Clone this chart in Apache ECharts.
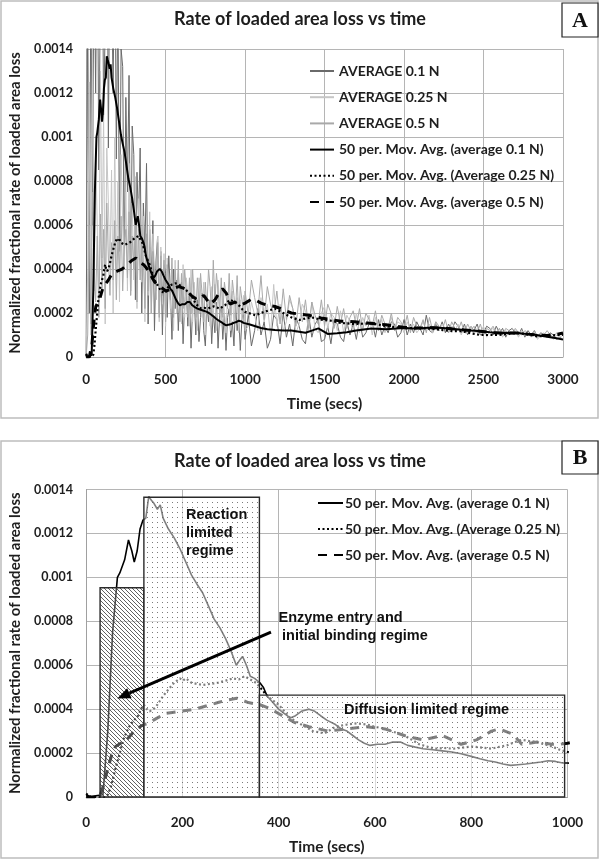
<!DOCTYPE html>
<html><head><meta charset="utf-8">
<script src="https://cdn.jsdelivr.net/npm/echarts@6/dist/echarts.min.js"></script>
<style>html,body{margin:0;padding:0;background:#fff}#c{width:600px;height:860px}</style>
</head><body><div id="c"></div>
<script>
// All rate values below are in units of 1e-5 (e.g. 140 -> 0.0014)
const UNIT = 1e-5;

const rawTime = [
  0,10,20,30,40,50,60,70,80,90,
  100,110,120,130,140,150,160,170,180,190,
  200,210,220,230,240,250,260,270,280,290,
  300,310,320,330,340,350,360,370,380,390,
  400,410,420,430,440,450,460,470,480,490,
  500,510,520,530,540,550,560,570,580,590,
  600,610,620,630,640,650,660,670,680,690,
  700,710,720,730,740,750,760,770,780,790,
  800,810,820,830,840,850,860,870,880,890,
  900,910,920,930,940,950,960,970,980,990,
  1000,
  1020,1040,1060,1080,1100,1120,1140,1160,1180,1200,
  1220,1240,1260,1280,1300,1320,1340,1360,1380,1400,
  1420,1440,1460,1480,1500,1520,1540,1560,1580,1600,
  1620,1640,1660,1680,1700,1720,1740,1760,1780,1800,
  1820,1840,1860,1880,1900,1920,1940,1960,1980,2000,
  2020,2040,2060,2080,2100,2120,2140,2160,2180,2200,
  2220,2240,2260,2280,2300,2320,2340,2360,2380,2400,
  2420,2440,2460,2480,2500,2520,2540,2560,2580,2600,
  2620,2640,2660,2680,2700,2720,2740,2760,2780,2800,
  2820,2840,2860,2880,2900,2920,2940,2960,2980,3000
];

const raw01 = [
  0,160,20,175,60,190,120,205,85,170,
  215,110,150,230,95,200,175,120,210,90,
  165,48,140,132,40,118,75,128,30,105,
  92,26,84,62,95,20,70,48,88,15,
  58,35,62,12,44,55,20,48,10,42,
  38,18,46,30,8,40,22,35,12,30,
  34,6,25,31,14,28,4,22,27,10,
  26,7,18,29,12,5,24,16,26,6,
  21,11,25,4,19,23,8,20,3,18,
  22,9,16,5,24,12,19,3,17,21,
  8,
  19,5,12,22,10,16,4,8,19,17,
  6,20,9,15,5,18,14,8,6,19,
  9,15,17,7,8,14,6,17,15,9,
  7,16,10,15,8,17,9,11,15,16,
  9,17,10,14,11,16,15,9,11,17,
  10,15,11,16,13,10,19,12,11,15,
  12,16,11,15,12,16,14,11,15,10,
  14,12,15,10,11,14,13,10,14,11,
  13,9,12,13,11,10,13,9,12,10,
  12,9,11,10,9,11,10,8,9,8
];

const raw025 = [
  0,40,125,10,145,30,95,60,20,130,
  45,110,15,95,70,40,85,20,100,35,
  80,25,92,60,40,75,30,88,28,70,
  35,82,22,72,50,34,64,16,62,28,
  66,20,56,40,30,55,16,50,24,47,
  14,45,32,22,40,12,44,20,38,27,
  15,42,18,36,28,14,40,16,34,22,
  12,36,30,18,34,10,28,25,14,32,
  18,33,12,35,24,14,30,20,11,29,
  26,12,30,15,22,27,11,26,17,28,
  12,
  14,25,19,12,27,16,24,10,33,14,
  24,12,16,26,22,11,15,24,21,12,
  25,13,11,20,23,13,20,18,12,21,
  11,19,16,12,20,11,18,14,19,10,
  18,12,17,11,14,18,12,16,15,11,
  16,12,15,11,13,16,12,15,11,16,
  12,15,13,11,14,12,15,10,14,11,
  14,10,13,11,14,9,12,13,10,13,
  9,12,10,11,12,9,12,10,11,9,
  11,8,10,11,9,10,8,10,9,10
];

const raw05 = [
  0,10,60,15,75,40,25,55,18,65,
  30,58,22,70,45,28,52,35,62,26,
  55,38,64,30,50,58,36,66,28,55,
  40,60,25,58,35,52,44,22,56,30,
  50,20,48,38,26,52,18,46,28,44,
  16,42,34,26,45,18,40,24,44,16,
  38,22,40,30,18,36,20,40,26,18,
  36,20,38,28,16,34,22,40,32,18,
  44,24,38,30,20,36,18,34,28,22,
  38,19,35,28,20,37,17,32,26,19,
  30,
  19,35,27,20,37,17,32,24,19,30,
  15,31,17,28,22,14,27,16,26,13,
  25,19,15,26,14,24,20,13,23,15,
  22,13,18,21,14,22,12,20,17,14,
  21,12,19,15,13,20,12,18,16,13,
  19,11,18,14,13,17,11,18,12,16,
  14,12,17,11,16,13,12,16,11,15,
  12,14,11,15,10,13,12,14,11,13,
  10,13,12,10,13,11,10,12,11,10,
  12,9,11,10,12,10,9,11,10,11
];

// 50-period moving averages: [time, value]
const ma01 = [[0,1],[10,0],[20,0.5],[35,1],[45,30],[55,75],[65,100],[70,102],[80,108],[88,117],[95,112],[100,107],[106,112],[112,122],[118,126],[124,127],[130,136.7],[136,135],[140,134],[148,131],[154,133],[160,127],[171,122],[183,118],[195,113],[207,107],[219,101],[230,97],[242,93],[254,87],[266,81],[278,77],[290,72],[300,67],[312,60],[318,62],[325,64],[333,60],[341,55],[350,54],[361,52],[368,50],[376,46],[388,43],[400,40],[412,38],[424,36],[435,37],[447,39],[463,40],[475,39],[487,37],[500,35],[518,33],[530,31],[542,30],[554,28],[566,26],[578,24.5],[590,23.5],[605,24],[621,24],[637,25],[653,25],[668,23.5],[684,22.7],[700,22],[720,21.5],[740,21],[760,20.5],[779,19.7],[800,18.5],[818,17.4],[835,16.5],[850,15.9],[866,15],[882,14.4],[897,14.7],[913,15],[929,15.5],[945,15.9],[960,16.5],[975,16.2],[990,15.5],[1000,15.5],[1030,14.8],[1065,14],[1100,13.2],[1140,12.6],[1188,12.3],[1240,12.1],[1291,12],[1340,11.5],[1380,11],[1420,12],[1461,13],[1520,10.5],[1579,10.8],[1640,11.3],[1698,12],[1795,13],[1887,12.6],[1950,12.9],[2006,13.2],[2060,13],[2124,13.2],[2180,13.4],[2243,13.2],[2300,12.8],[2361,12.4],[2420,12],[2479,11.7],[2540,11.2],[2598,10.9],[2660,11],[2716,10.9],[2780,10.4],[2834,10],[2900,9.2],[2960,8.5],[3000,7.9]];

const ma025 = [[0,1.5],[10,0],[20,0],[30,0],[40,0],[45,1],[52,5],[61,13],[70,20],[77,26],[85,30],[92,33],[100,35],[108,37],[114,40],[120,42],[126,40],[132,39],[140,40],[148,42],[160,46],[171,49],[183,52],[195,54],[201,53],[207,54],[219,52],[230,51.5],[242,51],[258,51.5],[274,52],[290,53],[305,54],[317,53.5],[329,55],[341,53.5],[353,52],[365,49],[376,46],[388,44],[400,42],[412,39],[424,36],[435,34.5],[447,33],[459,31.5],[471,30],[483,29.5],[495,29],[507,30.5],[518,32],[530,32.5],[542,33],[562,33.5],[582,33],[600,32],[621,31],[641,29.5],[661,28],[677,26],[692,24],[708,23],[724,22],[744,22.3],[763,22],[783,22.5],[803,23],[822,22.5],[842,22],[858,22.8],[874,23.5],[890,25],[905,26],[921,25.5],[937,25],[952,24],[968,23],[984,21.5],[1000,20.5],[1065,19],[1120,20.5],[1188,22],[1240,20],[1291,18],[1340,16.8],[1380,17.5],[1420,18],[1478,17],[1540,16.5],[1600,15.5],[1690,15],[1795,15.3],[1887,14],[1950,13.5],[2006,13],[2060,13.2],[2124,13],[2180,12.8],[2243,12.2],[2300,11.8],[2361,11.7],[2420,10.8],[2479,10],[2540,10],[2598,10],[2660,10.5],[2716,10.9],[2780,10.2],[2834,9.4],[2900,9.6],[2960,10],[3000,10]];

const ma05 = [[0,0],[20,0],[29,0.5],[37,6],[45,13],[53,19],[61,23],[72,24.5],[84,26],[94,28.5],[104,31],[112,32],[120,33],[130,33.5],[140,35],[152,36.5],[163,38],[179,38.5],[195,39],[211,39.5],[227,40],[242,41],[258,42],[274,43],[290,44],[302,44.5],[313,45],[325,44],[337,43],[349,42.5],[361,42],[373,41],[384,40],[396,38.5],[408,37],[420,35.5],[432,34],[447,33],[463,32],[483,31],[503,30],[522,30.5],[542,31],[562,31.5],[582,32],[602,31.5],[621,31],[641,29.5],[661,28],[680,27],[700,26],[720,27],[740,28],[760,26],[779,24],[795,25],[811,26],[827,28],[842,30],[858,31],[870,30],[882,29],[893,27],[905,24],[921,24.5],[937,25],[952,24.5],[968,24],[984,24],[1000,24.5],[1035,26],[1065,26],[1100,24.5],[1140,23.5],[1188,23],[1240,21.5],[1291,20],[1343,19.5],[1400,19],[1478,17.7],[1540,17],[1603,16.3],[1690,16],[1769,15.5],[1830,15],[1887,14.7],[1950,14],[2006,13.4],[2060,13.2],[2124,13.2],[2180,13.3],[2243,13.2],[2300,12.8],[2361,12.4],[2420,12],[2479,11.7],[2540,11.2],[2598,10.9],[2660,10.9],[2716,10.9],[2780,10.4],[2834,10],[2900,9.8],[2960,10.3],[3000,10.9]];

// Regime boxes in panel B: [start time, end time, top value, pattern kind]
const regimeBoxes = [[29,120,95.3,0],[120,360,136.5,1],[360,994,46.4,1]];
// Arrow in panel B: [from time, from value, to time, to value]
const arrowLine = [[384,75.1,65,44.9]];

const yTickLabels = ['0','0.0002','0.0004','0.0006','0.0008','0.001','0.0012','0.0014'];
const xTickLabelsA = ['0','500','1000','1500','2000','2500','3000'];
const xTickLabelsB = ['0','200','400','600','800','1000'];
const namesRaw = ['AVERAGE 0.1 N','AVERAGE 0.25 N','AVERAGE 0.5 N'];
const namesMA = ['50 per. Mov. Avg. (average 0.1 N)','50 per. Mov. Avg. (Average 0.25 N)','50 per. Mov. Avg. (average 0.5 N)'];

const toPairs = (t, v) => t.map((x, i) => [x, v[i] * UNIT]);
const scalePairs = p => p.map(d => [d[0], d[1] * UNIT]);

function makeDots() {
  const c = document.createElement('canvas'); c.width = 5; c.height = 5;
  const g = c.getContext('2d');
  g.fillStyle = 'rgba(255,255,255,0.5)'; g.fillRect(0,0,5,5);
  g.fillStyle = 'rgba(90,90,90,0.8)'; g.fillRect(2,2,1,1);
  return c;
}
function makeHatch() {
  const c = document.createElement('canvas'); c.width = 4; c.height = 4;
  const g = c.getContext('2d');
  g.fillStyle = 'rgba(255,255,255,0.3)'; g.fillRect(0,0,4,4);
  g.strokeStyle = 'rgba(60,60,60,0.9)'; g.lineWidth = 0.9;
  g.beginPath();
  g.moveTo(-1,-1); g.lineTo(5,5);
  g.moveTo(-1,3); g.lineTo(1,5);
  g.moveTo(3,-1); g.lineTo(5,1);
  g.stroke();
  return c;
}
const patterns = [{image: makeHatch(), repeat: 'repeat'}, {image: makeDots(), repeat: 'repeat'}];

const FONT = 'Lato';
const TXT = '#1e1e1e';
const gridColor = '#b5b5b5';

function xAxisCfg(idx, max, interval, labels, margin, gap) {
  return {
    type: 'value', gridIndex: idx, min: 0, max: max, interval: interval,
    name: 'Time (secs)', nameLocation: 'middle', nameGap: gap,
    nameTextStyle: {fontFamily: FONT, fontWeight: 'bold', fontSize: 15.5, color: TXT},
    axisLine: {lineStyle: {color: '#a0a0a0'}}, axisTick: {show: false},
    axisLabel: {margin: margin, fontFamily: FONT, fontWeight: 'bold', fontSize: 13.5, color: TXT,
      formatter: v => labels[Math.round(v / interval)]},
    splitLine: {show: true, lineStyle: {color: gridColor, width: 1}}
  };
}
function yAxisCfg(idx, gap) {
  return {
    type: 'value', gridIndex: idx, min: 0, max: 0.0014, interval: 0.0002,
    name: 'Normalized fractional rate of loaded area loss', nameLocation: 'middle', nameGap: gap,
    nameTextStyle: {fontFamily: FONT, fontWeight: 'bold', fontSize: 15, color: TXT},
    axisLine: {show: true, lineStyle: {color: '#a0a0a0'}}, axisTick: {show: false},
    axisLabel: {margin: 13, fontFamily: FONT, fontWeight: 'bold', fontSize: 12.5, color: TXT,
      formatter: v => yTickLabels[Math.round(v / 0.0002)]},
    splitLine: {show: true, lineStyle: {color: gridColor, width: 1}}
  };
}
function lineS(name, idx, data, color, width, type, z) {
  return {type: 'line', name: name, xAxisIndex: idx, yAxisIndex: idx, data: data,
    symbol: 'none', showSymbol: false, animation: false, z: z,
    lineStyle: {color: color, width: width, type: type}, itemStyle: {color: color}};
}

const chart = echarts.init(document.getElementById('c'), null, {renderer: 'canvas'});
const legendText = {fontFamily: FONT, fontWeight: 'bold', fontSize: 14, color: TXT};

chart.setOption({
  animation: false,
  backgroundColor: '#fff',
  title: [
    {text: 'Rate of loaded area loss vs time', left: 'center', top: 10, padding: 0,
      textStyle: {fontFamily: FONT, fontWeight: 'bold', fontSize: 18, color: TXT}},
    {text: 'Rate of loaded area loss vs time', left: 'center', top: 452, padding: 0,
      textStyle: {fontFamily: FONT, fontWeight: 'bold', fontSize: 18, color: TXT}}
  ],
  grid: [
    {left: 78, top: 49, width: 485, height: 308},
    {left: 81.7, top: 489.5, width: 485.8, height: 307.5}
  ],
  xAxis: [xAxisCfg(0, 3000, 500, xTickLabelsA, 16, 39), xAxisCfg(1, 1000, 200, xTickLabelsB, 19, 42)],
  yAxis: [yAxisCfg(0, 57), yAxisCfg(1, 59)],
  legend: [
    {data: namesRaw.concat(namesMA), orient: 'vertical', left: 309, top: 64, itemWidth: 24, itemHeight: 14,
      itemGap: 12.2, selectedMode: false, textStyle: legendText, padding: 0,
      itemStyle: {opacity: 0}},
    {data: namesMA, orient: 'vertical', left: 317, top: 496, itemWidth: 25, itemHeight: 14,
      itemGap: 12, selectedMode: false, textStyle: Object.assign({padding: [0, 0, 0, -3]}, legendText), padding: 0,
      itemStyle: {opacity: 0}}
  ],
  series: [
    lineS(namesRaw[0], 0, toPairs(rawTime, raw01), '#6a6a6a', 1, 'solid', 2),
    lineS(namesRaw[1], 0, toPairs(rawTime, raw025), '#c6c6c6', 1, 'solid', 2),
    lineS(namesRaw[2], 0, toPairs(rawTime, raw05), '#a9a9a9', 1, 'solid', 2),
    lineS(namesMA[0], 0, scalePairs(ma01), '#000', 2, 'solid', 3),
    lineS(namesMA[1], 0, scalePairs(ma025), '#000', 2.2, [2, 2.5], 3),
    lineS(namesMA[2], 0, scalePairs(ma05), '#000', 3, [9, 7], 3),
    lineS(namesMA[0], 1, scalePairs(ma01), '#000', 1.6, 'solid', 3),
    lineS(namesMA[1], 1, scalePairs(ma025), '#000', 2.2, [2, 2.5], 3),
    lineS(namesMA[2], 1, scalePairs(ma05), '#000', 3, [9, 7], 3),
    {
      type: 'custom', name: 'regimes', xAxisIndex: 1, yAxisIndex: 1, z: 5, silent: true,
      data: regimeBoxes.map(b => [b[0], b[1], b[2] * UNIT, b[3]]),
      encode: {x: [0, 1], y: 2},
      renderItem: function (params, api) {
        const p0 = api.coord([api.value(0), api.value(2)]);
        const p1 = api.coord([api.value(1), 0]);
        return {type: 'rect', shape: {x: p0[0], y: p0[1], width: p1[0] - p0[0], height: p1[1] - p0[1]},
          style: {fill: patterns[api.value(3)], stroke: '#2a2a2a', lineWidth: 1.4}};
      }
    },
    {
      type: 'custom', name: 'arrow', xAxisIndex: 1, yAxisIndex: 1, z: 6, silent: true,
      data: arrowLine.map(a => [a[0], a[1] * UNIT, a[2], a[3] * UNIT]),
      encode: {x: [0, 2], y: [1, 3]},
      renderItem: function (params, api) {
        const p0 = api.coord([api.value(0), api.value(1)]);
        const p1 = api.coord([api.value(2), api.value(3)]);
        const dx = p1[0] - p0[0], dy = p1[1] - p0[1];
        const L = Math.sqrt(dx * dx + dy * dy), ux = dx / L, uy = dy / L;
        const hl = 13, hw = 5.5;
        const bx = p1[0] - ux * hl, by = p1[1] - uy * hl;
        return {type: 'group', children: [
          {type: 'line', shape: {x1: p0[0], y1: p0[1], x2: bx, y2: by}, style: {stroke: '#000', lineWidth: 3}},
          {type: 'polygon', shape: {points: [[p1[0], p1[1]], [bx - uy * hw, by + ux * hw], [bx + uy * hw, by - ux * hw]]},
            style: {fill: '#000'}}
        ]};
      }
    }
  ],
  graphic: [
    {type: 'rect', z: 0, silent: true, shape: {x: 1, y: 1, width: 597, height: 417}, style: {fill: 'none', stroke: '#bdbdbd', lineWidth: 1.5}},
    {type: 'rect', z: 0, silent: true, shape: {x: 1, y: 441, width: 597, height: 417}, style: {fill: 'none', stroke: '#bdbdbd', lineWidth: 1.5}},
    {type: 'rect', z: 20, silent: true, shape: {x: 562, y: 3, width: 36, height: 34}, style: {fill: '#fff', stroke: '#222', lineWidth: 1.2}},
    {type: 'text', z: 21, silent: true, style: {text: 'A', x: 580, y: 21, textAlign: 'center', textVerticalAlign: 'middle', font: 'bold 22px "Liberation Serif"', fill: '#111'}},
    {type: 'rect', z: 20, silent: true, shape: {x: 562, y: 441, width: 36, height: 33}, style: {fill: '#fff', stroke: '#222', lineWidth: 1.2}},
    {type: 'text', z: 21, silent: true, style: {text: 'B', x: 580, y: 458, textAlign: 'center', textVerticalAlign: 'middle', font: 'bold 22px "Liberation Serif"', fill: '#111'}},
    {type: 'text', z: 30, silent: true, style: {text: 'Reaction\nlimited\nregime', x: 186, y: 506, textAlign: 'left', textVerticalAlign: 'top', lineHeight: 18, font: 'bold 14.5px "Liberation Sans"', fill: '#111'}},
    {type: 'text', z: 30, silent: true, style: {text: 'Enzyme entry and', x: 278.5, y: 618, textAlign: 'left', textVerticalAlign: 'middle', font: 'bold 14.5px "Liberation Sans"', fill: '#111'}},
    {type: 'text', z: 30, silent: true, style: {text: 'initial binding regime', x: 282, y: 636, textAlign: 'left', textVerticalAlign: 'middle', font: 'bold 14.5px "Liberation Sans"', fill: '#111'}},
    {type: 'text', z: 30, silent: true, style: {text: 'Diffusion limited regime', x: 344, y: 710, textAlign: 'left', textVerticalAlign: 'middle', font: 'bold 14.5px "Liberation Sans"', fill: '#111'}}
  ]
});
</script>
</body></html>
